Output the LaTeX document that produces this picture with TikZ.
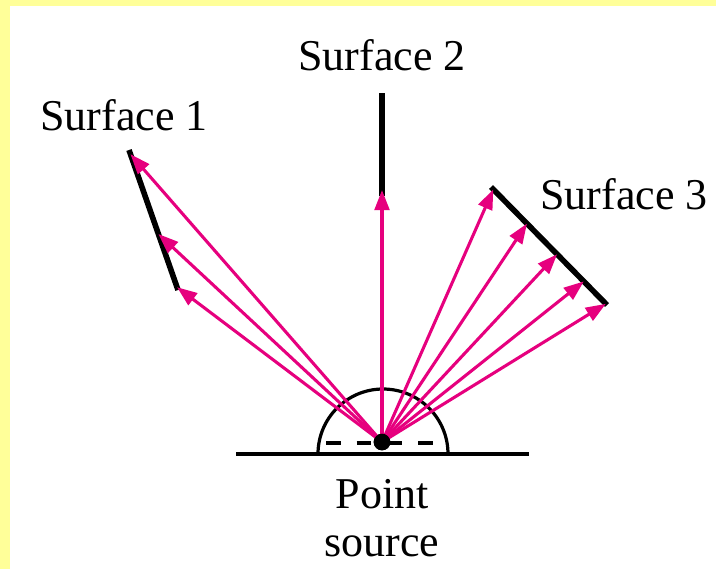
\documentclass[tikz,border=0pt]{standalone}
\usepackage{fontspec}
\setmainfont{Liberation Serif}
\usetikzlibrary{arrows.meta,calc}
\definecolor{raypink}{RGB}{230,0,126}
\definecolor{paleyellow}{RGB}{255,255,153}
\tikzset{
  surf/.style={line width=4.2pt},
  ray/.style={raypink,line width=2.3pt,-{Triangle[length=15pt,width=11pt]}},
  lbl/.style={font=\fontsize{33}{36}\selectfont,inner sep=0pt,anchor=base}
}
\begin{document}
\begin{tikzpicture}[x=0.75pt,y=-0.75pt]
      % page frame: yellow edge on top and left
      \useasboundingbox (0,0) rectangle (716,569);
      \fill[paleyellow] (0,0) rectangle (716,569);
      \fill[white] (10,6) rectangle (716,569);
      % ground and half dome
      \draw[line width=3.6pt] (236,454) -- (529,454);
      \draw[line width=2.4pt] (318,454) arc[start angle=180,end angle=360,radius=65];
      \draw[line width=2.6pt,dash pattern=on 11pt off 12pt] (326,443) -- (440,443);
      % surfaces
      \coordinate (s1a) at (129,150); \coordinate (s1b) at (178,290);
      \coordinate (s2a) at (382,93);  \coordinate (s2b) at (382,196);
      \coordinate (s3a) at (491,187); \coordinate (s3b) at (607,305);
      \draw[surf] (s1a) -- (s1b);
      \draw[surf] (s2a) -- (s2b);
      \draw[surf] (s3a) -- (s3b);
      \node[circle,fill=black,minimum size=12.5pt,inner sep=0pt] (src) at (382,442) {};
      % rays
      \foreach \t in {0.03,0.6,0.98}
        \draw[ray] (src.center) -- ($(s1a)!\t!(s1b)$);
      \draw[ray] (src.center) -- (382,190);
      \foreach \t in {0.02,0.31,0.57,0.8,0.99}
        \draw[ray] (src.center) -- ($(s3a)!\t!(s3b)$);
      \node[circle,fill=black,minimum size=12.5pt,inner sep=0pt] at (src) {};
      % labels
      \node[lbl] (lab1) at (124,130) {Surface 1};
      \node[lbl] (lab2) at (382,70) {Surface 2};
      \node[lbl] (lab3) at (624,209) {Surface 3};
      \node[lbl,align=center] (labsrc) at (382,556) {Point\\source};
\end{tikzpicture}
\end{document}
